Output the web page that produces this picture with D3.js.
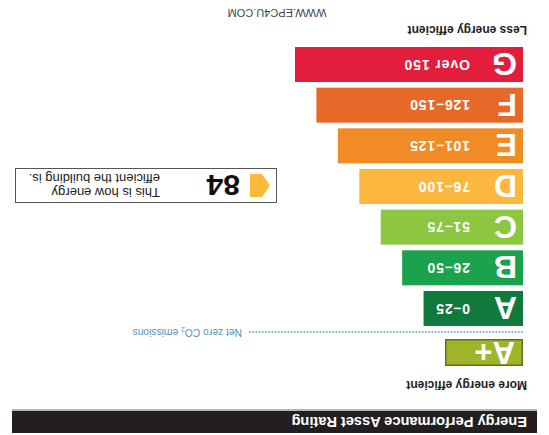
<!DOCTYPE html>
<html><head><meta charset="utf-8">
<script src="https://cdn.jsdelivr.net/npm/d3@7"></script>
<style>html,body{margin:0;padding:0;background:#fff;}svg{display:block;font-family:"Liberation Sans",Arial,sans-serif;}</style>
</head><body>
<svg id="c" width="549" height="435"></svg>
<script>
const categories = ["A+","A","B","C","D","E","F","G"];
const ranges = ["", "0–25","26–50","51–75","76–100","101–125","126–150","Over 150"];
const bandUpper = [0,25,50,75,100,125,150,175];
const colors = ["#9fb428","#0f7a3c","#1ca24c","#8dc641","#fcb83e","#f08b25","#e6692a","#e31d3c"];
const rating = 84;
const ratingBand = "D";
const titleText = "Energy Performance Asset Rating";
const topLabel = "More energy efficient";
const bottomLabel = "Less energy efficient";
const netZeroLabel = "Net zero CO";
const footer = "WWW.EPC4U.COM";
const ratingLines = ["This is how energy","efficient the building is."];

const svg = d3.select("#c");
const g = svg.append("g").attr("transform","rotate(180 274.5 217.5)");

const x0 = 26;
const w = d3.scaleLinear().domain([0,175]).range([78,228]);
const y = d3.scaleBand().domain(categories.slice(1)).range([109,388]).paddingInner(0.139);

// header
g.append("rect").attr("x",12).attr("y",2).attr("width",525).attr("height",22).attr("fill","#231f20");
g.append("rect").attr("x",12).attr("y",24).attr("width",525).attr("height",2).attr("fill","#b5b5b5");
g.append("text").attr("x",22).attr("y",18.5).attr("fill","#fff").attr("font-size",14.6).attr("font-weight","bold").text(titleText);

g.append("text").attr("x",22).attr("y",54).attr("fill","#222").attr("font-size",12).attr("font-weight","bold").text(topLabel);

// A+ bar
const ap = {cat:categories[0], col:colors[0], ub:bandUpper[0]};
g.append("rect").attr("x",x0+0.75).attr("y",69.75).attr("width",w(ap.ub)-1.5).attr("height",25.5)
  .attr("fill",ap.col).attr("stroke","#5d7419").attr("stroke-width",1.5);
g.append("text").attr("x",x0+8).attr("y",93).attr("fill","#fff").attr("font-size",31).attr("font-weight","bold").text(ap.cat);

// net zero dotted line
g.append("line").attr("x1",x0+1).attr("x2",302).attr("y1",103).attr("y2",103)
  .attr("stroke","#6ea9cc").attr("stroke-width",1.8).attr("stroke-dasharray","0.1,3.1").attr("stroke-linecap","round");
const nz = g.append("text").attr("x",307).attr("y",106.5).attr("fill","#4f93bd").attr("font-size",10.3);
nz.append("tspan").text(netZeroLabel);
nz.append("tspan").attr("font-size",6.5).attr("dy",2).text("2");
nz.append("tspan").attr("dy",-2).text(" emissions");

// A..G bars
const rows = categories.slice(1).map((c,i)=>({cat:c, range:ranges[i+1], col:colors[i+1], ub:bandUpper[i+1]}));
const bar = g.selectAll("g.bar").data(rows).join("g").attr("class","bar");
bar.append("rect").attr("x",x0).attr("y",d=>y(d.cat)).attr("width",d=>w(d.ub)).attr("height",y.bandwidth()).attr("fill",d=>d.col);
bar.append("text").attr("x",x0+6).attr("y",d=>y(d.cat)+y.bandwidth()/2+11.5).attr("fill","#fff")
  .attr("font-size",32).attr("font-weight","bold").text(d=>d.cat);
bar.append("text").attr("x",x0+53).attr("y",d=>y(d.cat)+y.bandwidth()/2+5).attr("fill","#fff")
  .attr("font-size",14).attr("letter-spacing",0.9).attr("font-weight","bold").text(d=>d.range);

// rating box
const ry = y(ratingBand);
g.append("rect").attr("x",272.5).attr("y",ry+1.5).attr("width",261).attr("height",34).attr("fill","#fff").attr("stroke","#555").attr("stroke-width",1);
const ay0 = ry+7, ay1 = ry+30, ax = 279;
g.append("path").attr("d",`M${ax},${(ay0+ay1)/2} L${ax+8},${ay0} L${ax+20},${ay0} L${ax+20},${ay1} L${ax+8},${ay1} Z`).attr("fill","#fbb93a");
g.append("text").attr("x",309).attr("y",ry+29).attr("fill","#111").attr("font-size",30).attr("font-weight","bold").text(rating);
g.selectAll("text.rl").data(ratingLines).join("text").attr("class","rl").attr("x",389).attr("y",(d,i)=>ry+16+i*14)
  .attr("fill","#222").attr("font-size",13).text(d=>d);

g.append("text").attr("x",22).attr("y",409).attr("fill","#222").attr("font-size",12).attr("font-weight","bold").text(bottomLabel);
g.append("text").attr("x",272).attr("y",426).attr("text-anchor","middle").attr("fill","#444").attr("font-size",11).text(footer);
</script>
</body></html>
